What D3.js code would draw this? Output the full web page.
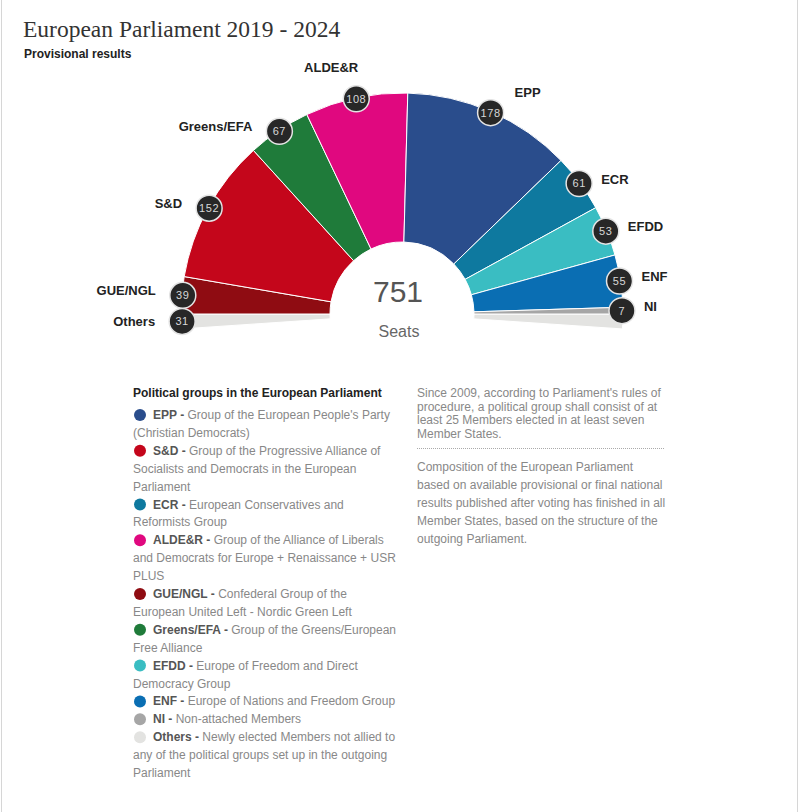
<!DOCTYPE html>
<html>
<head>
<meta charset="utf-8">
<script src="https://cdn.jsdelivr.net/npm/d3@7"></script>
<style>
  body { margin: 0; background: #fff; }
  #chart text { font-family: "Liberation Sans", Arial, sans-serif; }
</style>
</head>
<body>
<div id="chart"></div>
<script>
// seats, left to right around the half circle
const parties = ['GUE/NGL', 'S&D', 'Greens/EFA', 'ALDE&R', 'EPP', 'ECR', 'EFDD', 'ENF', 'NI'];
const seats = [39, 152, 67, 108, 178, 61, 53, 55, 7];
const colors = ['#8f0c12', '#c4061b', '#1f7b3a', '#e0087f', '#2a4d8c', '#0e799f', '#3abdc2', '#0a6eb3', '#a6a6a6'];
const othersName = 'Others';
const othersSeats = 31;
const othersColor = '#e3e3e1';
const totalSeats = 751;

// legend, in the order of the reference
const legendNames = ['EPP', 'S&D', 'ECR', 'ALDE&R', 'GUE/NGL', 'Greens/EFA', 'EFDD', 'ENF', 'NI', 'Others'];
const legendLines = [
  ['Group of the European People\'s Party', '(Christian Democrats)'],
  ['Group of the Progressive Alliance of', 'Socialists and Democrats in the European', 'Parliament'],
  ['European Conservatives and', 'Reformists Group'],
  ['Group of the Alliance of Liberals', 'and Democrats for Europe + Renaissance + USR', 'PLUS'],
  ['Confederal Group of the', 'European United Left - Nordic Green Left'],
  ['Group of the Greens/European', 'Free Alliance'],
  ['Europe of Freedom and Direct', 'Democracy Group'],
  ['Europe of Nations and Freedom Group'],
  ['Non-attached Members'],
  ['Newly elected Members not allied to', 'any of the political groups set up in the outgoing', 'Parliament']
];
const noteLines = [
  'Since 2009, according to Parliament\'s rules of',
  'procedure, a political group shall consist of at',
  'least 25 Members elected in at least seven',
  'Member States.'
];
const sourceLines = [
  'Composition of the European Parliament',
  'based on available provisional or final national',
  'results published after voting has finished in all',
  'Member States, based on the structure of the',
  'outgoing Parliament.'
];

const width = 800, height = 812;
const cx = 402, cy = 314;
const rIn = 72, rOut = 221, rBadge = 220;

const svg = d3.select('#chart').append('svg')
  .attr('width', width)
  .attr('height', height);

// frame
svg.append('line').attr('x1', 1.5).attr('x2', 1.5).attr('y1', 0).attr('y2', height)
  .attr('stroke', '#d6d6d6');
svg.append('line').attr('x1', 797.5).attr('x2', 797.5).attr('y1', 0).attr('y2', height)
  .attr('stroke', '#d6d6d6');

svg.append('text')
  .attr('x', 23).attr('y', 37)
  .style('font-family', '"Liberation Serif", "DejaVu Serif", serif')
  .style('font-size', '23.5px')
  .attr('fill', '#333')
  .text('European Parliament 2019 - 2024');

svg.append('text')
  .attr('x', 24).attr('y', 58)
  .style('font-size', '12px').style('font-weight', 'bold')
  .attr('fill', '#222')
  .text('Provisional results');

// angles: the named groups fill the half circle, Others is split under the horizon
const seated = d3.sum(seats);
const angle = d3.scaleLinear().domain([0, seated]).range([-Math.PI / 2, Math.PI / 2]);
const cum = d3.cumsum(seats);
const slices = parties.map((p, i) => ({
  name: p, seats: seats[i], color: colors[i],
  startAngle: angle(cum[i] - seats[i]), endAngle: angle(cum[i])
}));
const half = angle(othersSeats / 2) - angle(0);
const othersL = { name: othersName, seats: othersSeats, color: othersColor,
  startAngle: -Math.PI / 2 - half, endAngle: -Math.PI / 2 };
const othersR = { name: othersName, seats: othersSeats, color: othersColor,
  startAngle: Math.PI / 2, endAngle: Math.PI / 2 + half, noBadge: true };
const all = [othersL, othersR].concat(slices);

const arc = d3.arc().innerRadius(rIn).outerRadius(rOut);
const g = svg.append('g').attr('transform', `translate(${cx},${cy})`);

g.selectAll('path.slice')
  .data(all)
  .join('path')
  .attr('class', 'slice')
  .attr('d', arc)
  .attr('fill', d => d.color)
  .attr('stroke', '#fff')
  .attr('stroke-width', 1);

// badges + labels
const badged = all.filter(d => !d.noBadge);
badged.forEach(d => {
  const a = (d.startAngle + d.endAngle) / 2;
  d.bx = Math.sin(a) * rBadge;
  d.by = -Math.cos(a) * rBadge;
  const up = Math.cos(a), side = Math.sin(a);
  if (up > 0.95) { d.anchor = 'end'; d.lx = d.bx + 2; d.ly = d.by - 27; }
  else if (up > 0.9) { d.anchor = 'start'; d.lx = d.bx + 24; d.ly = d.by - 16; }
  else if (side < 0) { d.anchor = 'end'; d.lx = d.bx - 27; d.ly = d.by; }
  else { d.anchor = 'start'; d.lx = d.bx + 22; d.ly = d.by; }
});
othersL.ly = othersL.by + 5;

const badge = g.selectAll('g.badge')
  .data(badged)
  .join('g')
  .attr('class', 'badge')
  .attr('transform', d => `translate(${d.bx},${d.by})`);

badge.append('circle')
  .attr('r', 13)
  .attr('fill', '#272727')
  .attr('stroke', '#e4e4e4')
  .attr('stroke-width', 1.5);

badge.append('text')
  .attr('text-anchor', 'middle')
  .attr('dy', '0.36em')
  .style('font-size', '11px')
  .style('letter-spacing', '0.6px')
  .attr('fill', '#d8d8d8')
  .text(d => d.seats);

g.selectAll('text.plabel')
  .data(badged)
  .join('text')
  .attr('class', 'plabel')
  .attr('x', d => d.lx)
  .attr('y', d => d.ly)
  .attr('text-anchor', d => d.anchor)
  .style('font-size', '13px').style('font-weight', 'bold')
  .attr('fill', '#222')
  .text(d => d.name);

// centre
g.append('text')
  .attr('x', -4).attr('y', -12)
  .attr('text-anchor', 'middle')
  .style('font-size', '30px')
  .attr('fill', '#555')
  .text(totalSeats);
g.append('text')
  .attr('x', -3).attr('y', 23)
  .attr('text-anchor', 'middle')
  .style('font-size', '16px')
  .attr('fill', '#666')
  .text('Seats');

// legend
const colorOf = name => name === othersName ? othersColor : colors[parties.indexOf(name)];
const lx = 133, lineH = 17.9;
svg.append('text')
  .attr('x', lx).attr('y', 397)
  .style('font-size', '12px').style('font-weight', 'bold')
  .attr('fill', '#222')
  .text('Political groups in the European Parliament');

let row = 0;
const leg = svg.append('g');
legendNames.forEach((name, i) => {
  const y0 = 415 + row * lineH;
  leg.append('circle')
    .attr('cx', lx + 7).attr('cy', y0)
    .attr('r', 6)
    .attr('fill', colorOf(name));
  legendLines[i].forEach((line, j) => {
    const t = leg.append('text')
      .attr('x', j === 0 ? lx + 20 : lx)
      .attr('y', 415 + (row + j) * lineH + 4)
      .style('font-size', '12px')
      .attr('fill', '#888');
    if (j === 0) {
      t.append('tspan').style('font-weight', 'bold').attr('fill', '#555').text(name + ' - ');
    }
    t.append('tspan').text(line);
  });
  row += legendLines[i].length;
});

// side notes
const nx = 417;
svg.append('g').selectAll('text')
  .data(noteLines)
  .join('text')
  .attr('x', nx)
  .attr('y', (d, i) => 397 + i * 13.6)
  .style('font-size', '12px')
  .attr('fill', '#888')
  .text(d => d);

svg.append('line')
  .attr('x1', nx).attr('x2', 665)
  .attr('y1', 448.5).attr('y2', 448.5)
  .attr('stroke', '#aaa')
  .attr('stroke-dasharray', '1,1');

svg.append('g').selectAll('text')
  .data(sourceLines)
  .join('text')
  .attr('x', nx)
  .attr('y', (d, i) => 471 + i * 18)
  .style('font-size', '12px')
  .attr('fill', '#888')
  .text(d => d);
</script>
</body>
</html>
